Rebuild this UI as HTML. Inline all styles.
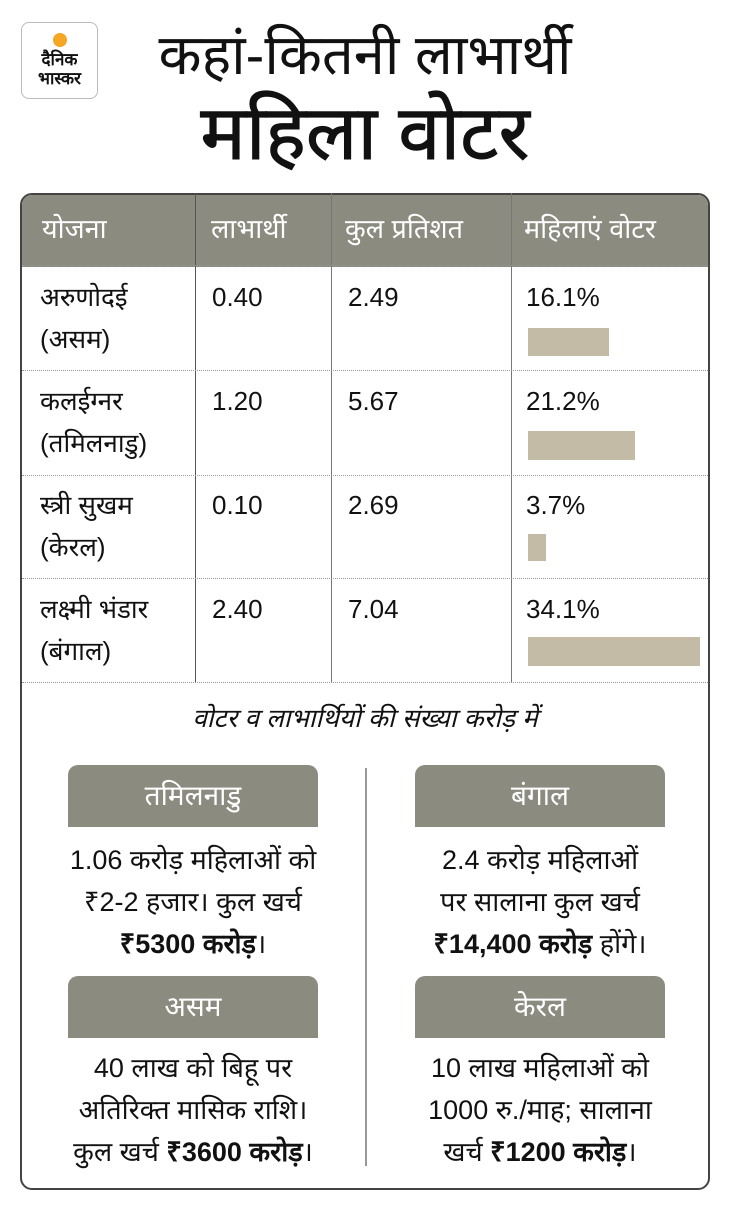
<!DOCTYPE html>
<html><head><meta charset="utf-8"><style>
*{margin:0;padding:0;box-sizing:border-box}
body{width:730px;height:1212px;background:#fff;position:relative;font-family:"Liberation Sans","Noto Sans CJK SC",sans-serif;color:#111;overflow:hidden}
.a{position:absolute;white-space:nowrap}
.t{font-size:26px;line-height:42px}
.h{color:#fff;font-size:27px;line-height:72px;top:193px}
.bar{position:absolute;background:#c3bba6}
.dot{position:absolute;left:22px;width:686px;border-top:1px dotted #999}
.vl{position:absolute;width:1px;background:#555;top:193px;height:489px}
.bx{position:absolute;width:250px;height:62px;background:#8b8b80;border-radius:10px 10px 0 0;color:#fff;font-size:28px;text-align:center;line-height:62px}
.p{position:absolute;width:330px;text-align:center;font-size:27px;line-height:42px}
</style></head><body>
<div class="a" style="left:21px;top:22px;width:77px;height:77px;border:1px solid #bbb;border-radius:8px;text-align:center;font-size:17px;font-weight:bold;line-height:19px;padding-top:10px"><div style="width:14px;height:14px;border-radius:50%;background:#f5a623;margin:0 auto 3px"></div>दैनिक<br>भास्कर</div>
<div class="a" style="left:0;width:730px;top:20px;text-align:center;font-size:56px;line-height:70px">कहां-कितनी लाभार्थी</div>
<div class="a" style="left:0;width:730px;top:92px;text-align:center;font-size:76px;line-height:84px;-webkit-text-stroke:1px #111">महिला वोटर</div>
<div class="a" style="left:20px;top:193px;width:690px;height:997px;border:2px solid #444;border-radius:12px;overflow:hidden">
<div style="height:72px;background:#8b8b80"></div></div>
<div class="vl" style="left:195px"></div><div class="vl" style="left:331px;background:#777"></div><div class="vl" style="left:511px;background:#777"></div>
<div class="a h" style="left:42px">योजना</div>
<div class="a h" style="left:211px">लाभार्थी</div>
<div class="a h" style="left:345px">कुल प्रतिशत</div>
<div class="a h" style="left:524px">महिलाएं वोटर</div>
<div class="dot" style="top:265px"></div><div class="dot" style="top:370px"></div><div class="dot" style="top:475px"></div><div class="dot" style="top:578px"></div><div class="dot" style="top:682px"></div>

<div class="a t" style="left:40px;top:276px">अरुणोदई<br>(असम)</div>
<div class="a t" style="left:212px;top:276px">0.40</div><div class="a t" style="left:348px;top:276px">2.49</div><div class="a t" style="left:526px;top:276px">16.1%</div>
<div class="bar" style="left:528px;top:328px;width:81px;height:28px"></div>

<div class="a t" style="left:40px;top:380px">कलईग्नर<br>(तमिलनाडु)</div>
<div class="a t" style="left:212px;top:380px">1.20</div><div class="a t" style="left:348px;top:380px">5.67</div><div class="a t" style="left:526px;top:380px">21.2%</div>
<div class="bar" style="left:528px;top:431px;width:107px;height:29px"></div>

<div class="a t" style="left:40px;top:484px">स्त्री सुखम<br>(केरल)</div>
<div class="a t" style="left:212px;top:484px">0.10</div><div class="a t" style="left:348px;top:484px">2.69</div><div class="a t" style="left:526px;top:484px">3.7%</div>
<div class="bar" style="left:528px;top:534px;width:18px;height:27px"></div>

<div class="a t" style="left:40px;top:588px">लक्ष्मी भंडार<br>(बंगाल)</div>
<div class="a t" style="left:212px;top:588px">2.40</div><div class="a t" style="left:348px;top:588px">7.04</div><div class="a t" style="left:526px;top:588px">34.1%</div>
<div class="bar" style="left:528px;top:637px;width:172px;height:29px"></div>

<div class="a" style="left:0;width:730px;top:700px;text-align:center;font-size:26px;font-style:italic;line-height:36px">वोटर व लाभार्थियों की संख्या करोड़ में</div>
<div class="a" style="left:365px;top:768px;width:2px;height:398px;background:#999"></div>
<div class="bx" style="left:68px;top:765px">तमिलनाडु</div>
<div class="bx" style="left:415px;top:765px">बंगाल</div>
<div class="p" style="left:28px;top:839px">1.06 करोड़ महिलाओं को<br>₹2-2 हजार। कुल खर्च<br><b>₹5300 करोड़</b>।</div>
<div class="p" style="left:375px;top:839px">2.4 करोड़ महिलाओं<br>पर सालाना कुल खर्च<br><b>₹14,400 करोड़</b> होंगे।</div>
<div class="bx" style="left:68px;top:976px">असम</div>
<div class="bx" style="left:415px;top:976px">केरल</div>
<div class="p" style="left:28px;top:1047px">40 लाख को बिहू पर<br>अतिरिक्त मासिक राशि।<br>कुल खर्च <b>₹3600 करोड़</b>।</div>
<div class="p" style="left:375px;top:1047px">10 लाख महिलाओं को<br>1000 रु./माह; सालाना<br>खर्च <b>₹1200 करोड़</b>।</div>
</body></html>
